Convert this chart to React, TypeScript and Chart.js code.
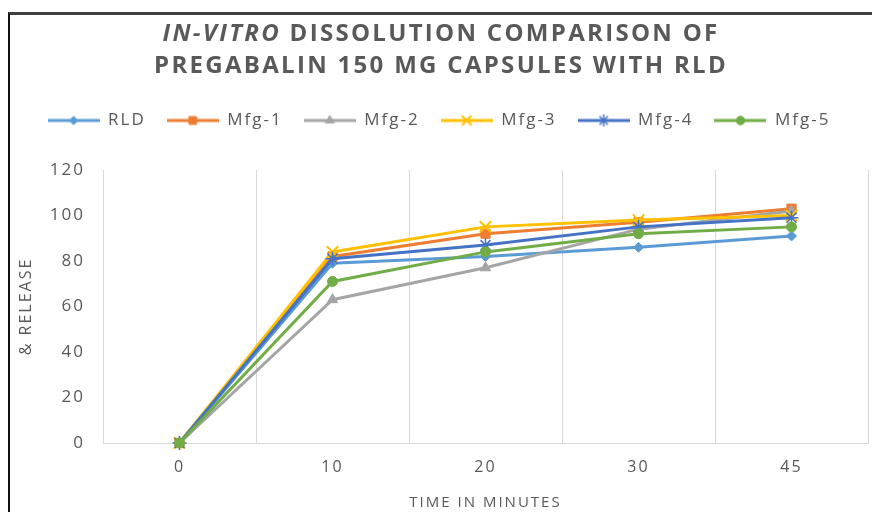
import React, { useEffect, useRef } from 'react';
import { Chart, registerables } from 'chart.js';
import { drawPoint } from 'chart.js/helpers';

Chart.register(...registerables);

// ---- data ----
const timeLabels = ['0', '10', '20', '30', '45'];
const seriesNames = ['RLD', 'Mfg-1', 'Mfg-2', 'Mfg-3', 'Mfg-4', 'Mfg-5'];
const rldValues = [0, 79, 82, 86, 91];
const mfg1Values = [0, 82, 92, 97, 103];
const mfg2Values = [0, 63, 77, 94, 102];
const mfg3Values = [0, 84, 95, 98, 100];
const mfg4Values = [0, 81, 87, 95, 99];
const mfg5Values = [0, 71, 84, 92, 95];
const yMin = 0;
const yMax = 120;
const yStep = 20;
const xAxisTitle = 'TIME IN MINUTES';
const yAxisTitle = '& RELEASE';

// ---- styles ----
const seriesStyles = [
  { color: '#5B9BD5', pointStyle: 'rectRot', radius: 5, pointBorder: 1 },
  { color: '#ED7D31', pointStyle: 'rect', radius: 6.5, pointBorder: 1 },
  { color: '#A5A5A5', pointStyle: 'triangle', radius: 6, pointBorder: 1 },
  { color: '#FFC000', pointStyle: 'crossRot', radius: 8, pointBorder: 2 },
  { color: '#4472C4', pointStyle: 'star', radius: 7, pointBorder: 1.5 },
  { color: '#70AD47', pointStyle: 'circle', radius: 5, pointBorder: 1 },
];
const FONT = "'Open Sans', 'DejaVu Sans', sans-serif";
const TEXT = '#595959';
const SPACING = '2px';

function makeIcon(color: string, style: any, radius: number, border: number) {
  const c = document.createElement('canvas');
  c.width = 52;
  c.height = 16;
  const g = c.getContext('2d')!;
  g.strokeStyle = color;
  g.lineWidth = 3;
  g.beginPath();
  g.moveTo(0, 8);
  g.lineTo(52, 8);
  g.stroke();
  g.fillStyle = color;
  g.strokeStyle = color;
  g.lineWidth = border;
  drawPoint(g, { pointStyle: style, radius: radius * 0.85, rotation: 0, borderWidth: border } as any, 26, 8);
  return c;
}

export default function App() {
  const ref = useRef<HTMLCanvasElement>(null);

  useEffect(() => {
    if (!ref.current) return;
    const valueLists = [rldValues, mfg1Values, mfg2Values, mfg3Values, mfg4Values, mfg5Values];
    const icons = seriesStyles.map((s) => makeIcon(s.color, s.pointStyle, s.radius, s.pointBorder));

    const spacingPlugin = {
      id: 'spacingPlugin',
      beforeLayout(chart: any) {
        chart.ctx.letterSpacing = SPACING;
        const lg = chart.legend;
        if (lg && !lg.__patched) {
          const orig = lg.fit;
          lg.fit = function () {
            orig.call(this);
            this.height += 31;
          };
          lg.__patched = true;
        }
      },
      beforeDraw(chart: any) {
        chart.ctx.letterSpacing = SPACING;
      },
    };

    const chart = new Chart(ref.current, {
      type: 'line',
      data: {
        labels: timeLabels,
        datasets: seriesNames.map((name, i) => ({
          label: name,
          data: valueLists[i],
          borderColor: seriesStyles[i].color,
          backgroundColor: seriesStyles[i].color,
          pointBackgroundColor: seriesStyles[i].color,
          pointBorderColor: seriesStyles[i].color,
          pointStyle: seriesStyles[i].pointStyle as any,
          pointRadius: seriesStyles[i].radius,
          pointBorderWidth: seriesStyles[i].pointBorder,
          borderWidth: 3,
          tension: 0,
          clip: false as any,
          order: seriesNames.length - i,
        })),
      },
      options: {
        animation: false,
        responsive: false,
        devicePixelRatio: 1,
        layout: { autoPadding: false, padding: { top: 76, left: 0, right: 4, bottom: 0 } },
        plugins: {
          title: { display: false },
          tooltip: { enabled: false },
          legend: {
            display: true,
            position: 'top',
            labels: {
              usePointStyle: true,
              pointStyleWidth: 52,
              padding: 21,
              color: TEXT,
              font: { family: FONT, size: 17 },
              generateLabels: (ch: any) =>
                ch.data.datasets.map((ds: any, i: number) => ({
                  text: ds.label,
                  pointStyle: icons[i],
                  fillStyle: seriesStyles[i].color,
                  strokeStyle: seriesStyles[i].color,
                  lineWidth: 0,
                  hidden: false,
                  datasetIndex: i,
                  fontColor: TEXT,
                })),
            },
          },
        },
        scales: {
          x: {
            type: 'category',
            offset: true,
            grid: { display: true, offset: true, color: '#d9d9d9', lineWidth: 1, drawTicks: false },
            border: { display: true, color: '#d9d9d9', width: 1 },
            ticks: { color: TEXT, font: { family: FONT, size: 16 }, padding: 15 },
            title: {
              display: true,
              text: xAxisTitle,
              color: TEXT,
              font: { family: FONT, size: 15 },
              padding: { top: 0, bottom: 0 },
            },
            afterFit: (s: any) => {
              s.height = 69;
            },
          },
          y: {
            min: yMin,
            max: yMax,
            grid: { display: false, drawTicks: false },
            border: { display: false },
            ticks: { stepSize: yStep, color: TEXT, font: { family: FONT, size: 17 }, padding: 18 },
            title: {
              display: true,
              text: yAxisTitle,
              color: TEXT,
              font: { family: FONT, size: 16 },
              padding: { top: 7, bottom: 0 },
            },
            afterFit: (s: any) => {
              s.width = 93;
            },
          },
        },
      },
      plugins: [spacingPlugin],
    });
    return () => chart.destroy();
  }, []);

  return (
    <div
      style={{
        position: 'absolute',
        left: 8,
        top: 12,
        width: 864,
        height: 500,
        boxSizing: 'border-box',
        borderTop: '3px solid #3f3f3f',
        borderLeft: '2px solid #111',
        background: '#fff',
      }}
    >
      <canvas
        ref={ref}
        width={862}
        height={497}
        style={{ display: 'block', position: 'absolute', left: 0, top: 0, width: 862, height: 497 }}
      />
      <div
        style={{
          position: 'absolute',
          left: 0,
          top: 1,
          width: 862,
          textAlign: 'center',
          fontFamily: FONT,
          fontWeight: 700,
          fontSize: 24,
          lineHeight: '32px',
          letterSpacing: '2.3px',
          color: TEXT,
        }}
      >
        <div>
          <i>IN-VITRO</i> DISSOLUTION COMPARISON OF
        </div>
        <div>PREGABALIN 150 MG CAPSULES WITH RLD</div>
      </div>
    </div>
  );
}
